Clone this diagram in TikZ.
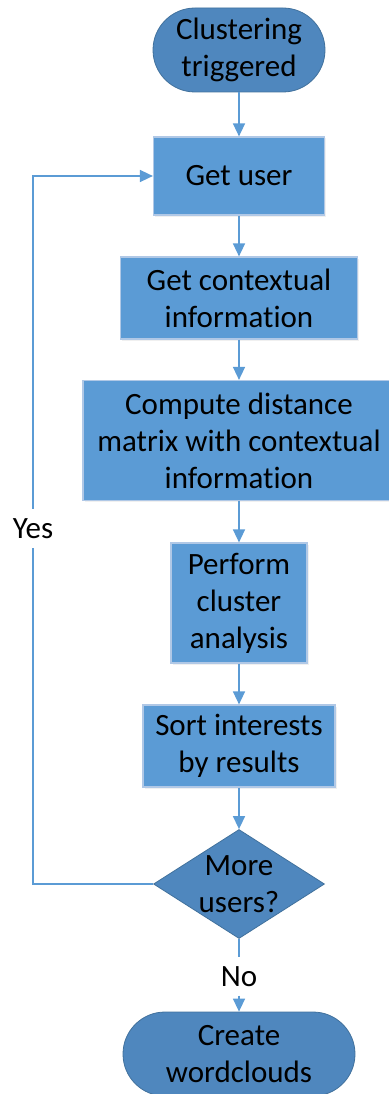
\documentclass[tikz,border=0pt]{standalone}
\usepackage{fontspec}
\setmainfont{Carlito}[Ligatures=NoCommon]
\usetikzlibrary{arrows.meta,shapes.geometric,shadows}

\definecolor{procfill}{RGB}{91,155,213}
\definecolor{procedge}{RGB}{176,200,230}
\definecolor{termfill}{RGB}{79,135,190}
\definecolor{termedge}{RGB}{65,113,156}
\definecolor{flowline}{RGB}{91,155,213}

\tikzset{
  lbl/.style={font=\fontsize{31}{37}\selectfont, text=black, align=center},
  procbox/.style={lbl, rectangle, fill=procfill, draw=procedge, line width=1.2pt,
    inner sep=0pt, drop shadow={opacity=0.12, shadow xshift=1.5pt, shadow yshift=-1.5pt}},
  termbox/.style={lbl, rectangle, rounded corners=42pt, fill=termfill, draw=termedge,
    line width=0.8pt, inner sep=0pt},
  decbox/.style={diamond, fill=termfill, draw=termedge, line width=0.8pt, inner sep=0pt},
  flow/.style={draw=flowline, line width=1.5pt, -{Triangle[length=13pt,width=12pt]}},
  plainflow/.style={draw=flowline, line width=1.5pt},
}

\begin{document}
\begin{tikzpicture}[x=1pt,y=-1pt]
\useasboundingbox (0,0) rectangle (388,1094);

% terminals, steps and the decision
\node[termbox, minimum width=172pt, minimum height=84pt] (start) at (239,50) {Clustering\\triggered};
\node[procbox, minimum width=171pt, minimum height=78pt] (user) at (239,176) {Get user};
\node[procbox, minimum width=237pt, minimum height=82pt] (ctx) at (239,298) {Get contextual\\information};
\node[procbox, minimum width=312pt, minimum height=120pt] (dist) at (239,440.5) {Compute distance\\matrix with contextual\\information};
\node[procbox, minimum width=136pt, minimum height=120pt] (clus) at (239,603) {Perform\\cluster\\analysis};
\node[procbox, minimum width=192pt, minimum height=82pt] (sort) at (239,746) {Sort interests\\by results};
\node[decbox, minimum width=171pt, minimum height=109pt] (dec) at (239,884) {};
\node[lbl, inner sep=0pt] (dectext) at (dec.center) {More\\users?};
\node[termbox, minimum width=232pt, minimum height=84pt] (end) at (239,1054) {Create\\wordclouds};

% main flow
\draw[flow] (start) -- (user);
\draw[flow] (user) -- (ctx);
\draw[flow] (ctx) -- (dist);
\draw[flow] (dist) -- (clus);
\draw[flow] (clus) -- (sort);
\draw[flow] (sort) -- (dec);

% exit branch
\node[lbl, inner sep=0pt, minimum height=38pt] (no) at (239,976.5) {No};
\draw[plainflow] (dec.south) -- (no.north);
\draw[flow] (no.south) -- (end.north);

% loop back for the next user
\coordinate (loopbot) at (33,884);
\coordinate (looptop) at (33,176);
\draw[flow] (dec.west) -- (loopbot) -- (looptop) -- (user.west);
\node[lbl, fill=white, inner sep=0pt, minimum width=42pt, minimum height=39pt] (yes) at (33,528.5) {Yes};
\end{tikzpicture}
\end{document}
